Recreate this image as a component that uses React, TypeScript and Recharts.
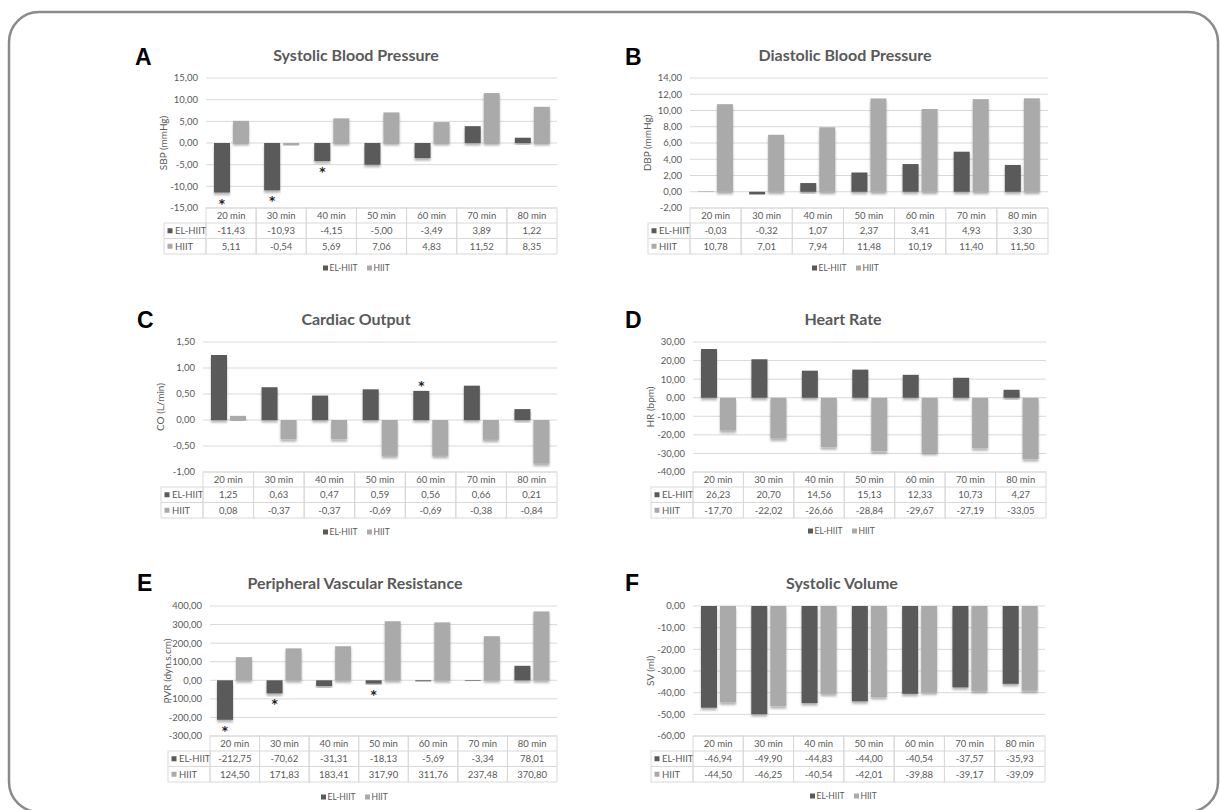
import React from 'react';
import { BarChart, Bar, XAxis, YAxis, CartesianGrid } from 'recharts';

const categories = ['20 min', '30 min', '40 min', '50 min', '60 min', '70 min', '80 min'];
const seriesNames = ['EL-HIIT', 'HIIT'];

// A - systolic blood pressure
const sbpEl = [-11.43, -10.93, -4.15, -5.0, -3.49, 3.89, 1.22];
const sbpHiit = [5.11, -0.54, 5.69, 7.06, 4.83, 11.52, 8.35];
const sbpSig = [true, true, true, false, false, false, false];
const sbpTicks = [-15, -10, -5, 0, 5, 10, 15];

// B - diastolic blood pressure
const dbpEl = [-0.03, -0.32, 1.07, 2.37, 3.41, 4.93, 3.3];
const dbpHiit = [10.78, 7.01, 7.94, 11.48, 10.19, 11.4, 11.5];
const dbpSig = [false, false, false, false, false, false, false];
const dbpTicks = [-2, 0, 2, 4, 6, 8, 10, 12, 14];

// C - cardiac output
const coEl = [1.25, 0.63, 0.47, 0.59, 0.56, 0.66, 0.21];
const coHiit = [0.08, -0.37, -0.37, -0.69, -0.69, -0.38, -0.84];
const coSig = [false, false, false, false, true, false, false];
const coTicks = [-1, -0.5, 0, 0.5, 1, 1.5];

// D - heart rate
const hrEl = [26.23, 20.7, 14.56, 15.13, 12.33, 10.73, 4.27];
const hrHiit = [-17.7, -22.02, -26.66, -28.84, -29.67, -27.19, -33.05];
const hrSig = [false, false, false, false, false, false, false];
const hrTicks = [-40, -30, -20, -10, 0, 10, 20, 30];

// E - peripheral vascular resistance
const pvrEl = [-212.75, -70.62, -31.31, -18.13, -5.69, -3.34, 78.01];
const pvrHiit = [124.5, 171.83, 183.41, 317.9, 311.76, 237.48, 370.8];
const pvrSig = [true, true, false, true, false, false, false];
const pvrTicks = [-300, -200, -100, 0, 100, 200, 300, 400];

// F - systolic volume
const svEl = [-46.94, -49.9, -44.83, -44.0, -40.54, -37.57, -35.93];
const svHiit = [-44.5, -46.25, -40.54, -42.01, -39.88, -39.17, -39.09];
const svSig = [false, false, false, false, false, false, false];
const svTicks = [-60, -50, -40, -30, -20, -10, 0];

const DARK = '#5a5a5a';
const LIGHT = '#aaaaaa';
const GRID = '#d9d9d9';
const TEXT = '#595959';
const FONT = 'Lato, "Open Sans", sans-serif';

const fmt = (v: number) => v.toFixed(2).replace('.', ',');

const panels = [
  { letter: 'A', title: 'Systolic Blood Pressure', yLabel: 'SBP (mmHg)', el: sbpEl, hiit: sbpHiit, sig: sbpSig, ticks: sbpTicks,
    plotLeft: 206, plotRight: 557, plotTop: 78, plotBottom: 208, letterX: 135, letterY: 65, titleX: 356, titleY: 61, legendX: 358, legendY: 268 },
  { letter: 'B', title: 'Diastolic Blood Pressure', yLabel: 'DBP (mmHg)', el: dbpEl, hiit: dbpHiit, sig: dbpSig, ticks: dbpTicks,
    plotLeft: 690, plotRight: 1048, plotTop: 78, plotBottom: 208, letterX: 625, letterY: 65, titleX: 845, titleY: 61, legendX: 847, legendY: 268 },
  { letter: 'C', title: 'Cardiac Output', yLabel: 'CO (L/min)', el: coEl, hiit: coHiit, sig: coSig, ticks: coTicks,
    plotLeft: 203, plotRight: 557, plotTop: 342, plotBottom: 472, letterX: 137, letterY: 328, titleX: 356, titleY: 325, legendX: 358, legendY: 532 },
  { letter: 'D', title: 'Heart Rate', yLabel: 'HR (bpm)', el: hrEl, hiit: hrHiit, sig: hrSig, ticks: hrTicks,
    plotLeft: 693, plotRight: 1046, plotTop: 342, plotBottom: 472, letterX: 625, letterY: 328, titleX: 843, titleY: 325, legendX: 843, legendY: 531 },
  { letter: 'E', title: 'Peripheral Vascular Resistance', yLabel: 'PVR (dyn.s.cm)', el: pvrEl, hiit: pvrHiit, sig: pvrSig, ticks: pvrTicks,
    plotLeft: 210, plotRight: 557, plotTop: 606, plotBottom: 736, letterX: 137, letterY: 591, titleX: 355, titleY: 589, legendX: 356, legendY: 797 },
  { letter: 'F', title: 'Systolic Volume', yLabel: 'SV (ml)', el: svEl, hiit: svHiit, sig: svSig, ticks: svTicks,
    plotLeft: 693, plotRight: 1045, plotTop: 606, plotBottom: 736, letterX: 625, letterY: 591, titleX: 842, titleY: 589, legendX: 845, legendY: 796 },
];

const ROWS = [0, 15, 30.5, 46];

function makeShape(fill: string, sig: boolean[], key: string) {
  return (props: any) => {
    const { x, y, width, height, index, payload } = props;
    const top = Math.min(y, y + height);
    const h = Math.abs(height);
    const v = payload ? payload[key] : 0;
    let star = null;
    if (sig[index]) {
      const cy = v < 0 ? top + h + 8 : top - 8;
      star = (
        <text x={x + width / 2} y={cy + 7} textAnchor="middle" fontSize={12} fontWeight="bold" fontFamily="DejaVu Sans" fill="#222">*</text>
      );
    }
    return (
      <g>
        <rect x={x} y={top} width={width} height={h} fill={fill} filter="url(#barShadow)" />
        {star}
      </g>
    );
  };
}

function Panel({ cfg }: { cfg: any }) {
  const { el, hiit, sig, ticks, plotLeft, plotRight, plotTop, plotBottom } = cfg;
  const svgLeft = plotLeft - 80;
  const svgTop = plotTop - 10;
  const width = plotRight + 6 - svgLeft;
  const height = plotBottom + 50 - svgTop;
  const data = categories.map((c, i) => ({ cat: c, el: el[i], hiit: hiit[i] }));
  const bw = (plotRight - plotLeft) / categories.length;
  const tableTop = plotBottom - svgTop;
  const rows = ROWS.map((r) => tableTop + r);
  const leftCol = 42;

  const renderTick = (props: any) => {
    const { x, index } = props;
    const left = x - bw / 2;
    const mid = (a: number, b: number) => (a + b) / 2;
    return (
      <g>
        {index === 0 && (
          <g>
            <rect x={left - leftCol} y={rows[1]} width={leftCol} height={rows[3] - rows[1]} fill="#fff" stroke={GRID} />
            <line x1={left - leftCol} x2={left} y1={rows[2]} y2={rows[2]} stroke={GRID} />
            <rect x={left - leftCol + 3.5} y={mid(rows[1], rows[2]) - 2.5} width={5} height={5} fill={DARK} />
            <text x={left - leftCol + 11} y={mid(rows[1], rows[2])} dy="0.35em" fontSize={9.5} fontFamily={FONT} fill={TEXT}>{seriesNames[0]}</text>
            <rect x={left - leftCol + 3.5} y={mid(rows[2], rows[3]) - 2.5} width={5} height={5} fill={LIGHT} />
            <text x={left - leftCol + 11} y={mid(rows[2], rows[3])} dy="0.35em" fontSize={9.5} fontFamily={FONT} fill={TEXT}>{seriesNames[1]}</text>
          </g>
        )}
        <rect x={left} y={rows[0]} width={bw} height={rows[3] - rows[0]} fill="none" stroke={GRID} />
        <line x1={left} x2={left + bw} y1={rows[1]} y2={rows[1]} stroke={GRID} />
        <line x1={left} x2={left + bw} y1={rows[2]} y2={rows[2]} stroke={GRID} />
        <text x={x} y={mid(rows[0], rows[1])} dy="0.35em" textAnchor="middle" fontSize={9.5} fontFamily={FONT} fill={TEXT}>{categories[index]}</text>
        <text x={x} y={mid(rows[1], rows[2])} dy="0.35em" textAnchor="middle" fontSize={9.5} fontFamily={FONT} fill={TEXT}>{fmt(el[index])}</text>
        <text x={x} y={mid(rows[2], rows[3])} dy="0.35em" textAnchor="middle" fontSize={9.5} fontFamily={FONT} fill={TEXT}>{fmt(hiit[index])}</text>
      </g>
    );
  };

  return (
    <div style={{ position: 'absolute', left: svgLeft, top: svgTop }}>
      <BarChart width={width} height={height} data={data} margin={{ top: 10, right: 6, bottom: 0, left: 0 }} barSize={16} barGap={3}>
        <CartesianGrid vertical={false} stroke={GRID} />
        <XAxis dataKey="cat" height={height - 10 - (plotBottom - plotTop)} tickLine={false} axisLine={false} interval={0} tick={renderTick} />
        <YAxis width={80} domain={[ticks[0], ticks[ticks.length - 1]]} ticks={ticks} interval={0} tickFormatter={fmt}
          tickLine={false} axisLine={false} tick={{ fontSize: 9.5, fill: TEXT, fontFamily: FONT }} />
        <Bar dataKey="el" fill={DARK} isAnimationActive={false} shape={makeShape(DARK, sig, 'el')} />
        <Bar dataKey="hiit" fill={LIGHT} isAnimationActive={false} shape={makeShape(LIGHT, sig.map(() => false), 'hiit')} />
      </BarChart>
    </div>
  );
}

function Decorations() {
  return (
    <svg width={1220} height={810} style={{ position: 'absolute', left: 0, top: 0 }}>
      <defs>
        <filter id="barShadow" x="-20%" y="-20%" width="140%" height="140%">
          <feDropShadow dx="0" dy="2.5" stdDeviation="1" floodColor="#000" floodOpacity="0.3" />
        </filter>
      </defs>
      <rect x={9} y={12} width={1209} height={800} rx={30} ry={30} fill="none" stroke="#8a8a8a" strokeWidth={2.5} />
      {panels.map((p) => (
        <g key={p.letter}>
          <text x={p.letterX} y={p.letterY} fontSize={23} fontWeight="bold" fontFamily='"Liberation Sans", Arial, sans-serif' fill="#000">{p.letter}</text>
          <text x={p.titleX} y={p.titleY} textAnchor="middle" fontSize={16} fontWeight="bold" fontFamily={FONT} fill={TEXT}>{p.title}</text>
          <text transform={`translate(${p.plotLeft - 43},${(p.plotTop + p.plotBottom) / 2}) rotate(-90)`} textAnchor="middle" dy="0.35em"
            fontSize={10} fontFamily={FONT} fill={TEXT}>{p.yLabel}</text>
          <g>
            <rect x={p.legendX - 35} y={p.legendY - 2.5} width={5} height={5} fill={DARK} />
            <text x={p.legendX - 28.5} y={p.legendY} dy="0.35em" fontSize={8.5} fontFamily={FONT} fill={TEXT}>{seriesNames[0]}</text>
            <rect x={p.legendX + 9} y={p.legendY - 2.5} width={5} height={5} fill={LIGHT} />
            <text x={p.legendX + 15.5} y={p.legendY} dy="0.35em" fontSize={8.5} fontFamily={FONT} fill={TEXT}>{seriesNames[1]}</text>
          </g>
        </g>
      ))}
    </svg>
  );
}

export default function App() {
  return (
    <div style={{ position: 'relative', width: 1220, height: 810, background: '#fff', overflow: 'hidden' }}>
      <style>{'body{margin:0}'}</style>
      <Decorations />
      {panels.map((p) => (
        <Panel key={p.letter} cfg={p} />
      ))}
    </div>
  );
}
